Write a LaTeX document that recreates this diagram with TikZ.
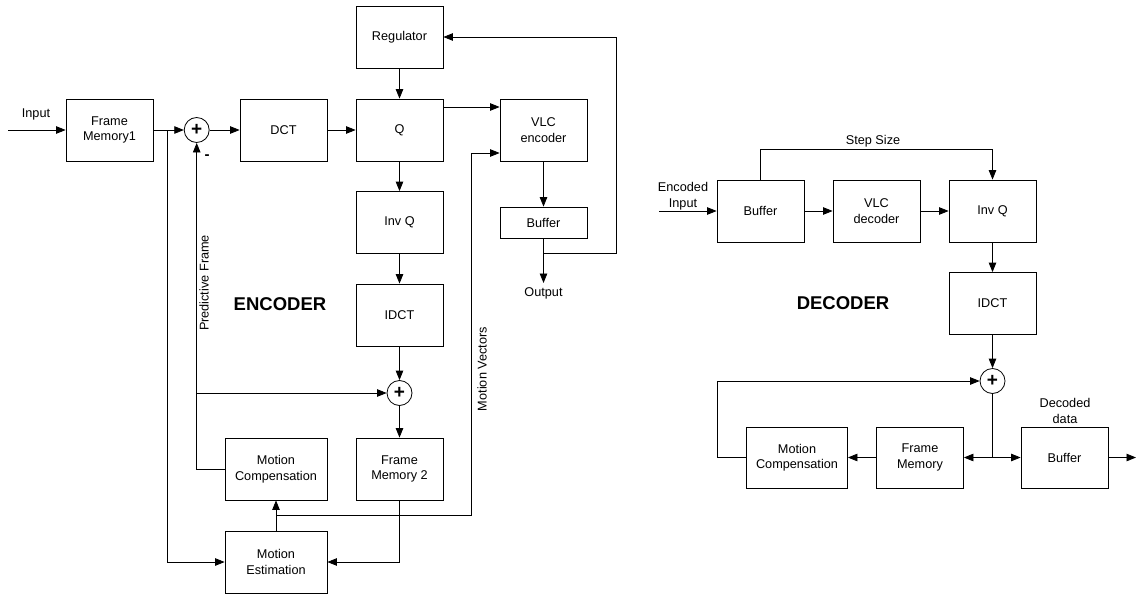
\documentclass[tikz,border=0pt]{standalone}
\usepackage{fontspec}
\setmainfont{Liberation Sans}
\usetikzlibrary{arrows.meta}
\begin{document}
\begin{tikzpicture}[x=1pt,y=-1pt,
  every node/.style={font=\fontsize{12.7}{15.5}\selectfont},
  blk/.style={draw, line width=0.8pt, minimum width=87pt, minimum height=62pt, inner sep=0pt, align=center},
  wide/.style={blk, minimum width=102pt},
  thin/.style={blk, minimum height=31pt},
  sumnode/.style={draw, circle, line width=0.8pt, minimum size=25pt, inner sep=0pt, font=\fontsize{19}{19}\selectfont\bfseries},
  lbl/.style={align=center, inner sep=0pt},
  title/.style={font=\fontsize{18.5}{20}\selectfont\bfseries, inner sep=0pt},
  wire/.style={line width=0.8pt},
  arr/.style={wire, -{Triangle[length=9.5pt,width=7.5pt]}}
]
\useasboundingbox (0,0) rectangle (1137,594);

% ---------------- ENCODER ----------------
\node[blk] (fm1) at (109.5,130) {Frame\\Memory1};
\node[sumnode] (s1) at (196.7,130) {+};
\node[blk] (dct) at (283.5,130) {DCT};
\node[blk] (q) at (399.5,130) {Q};
\node[blk] (reg) at (399.5,37) {Regulator};
\node[blk] (vlc) at (543.5,130) {VLC\\encoder};
\node[blk] (invq) at (399.5,222.5) {Inv Q};
\node[thin] (bufe) at (543.5,222.5) {Buffer};
\node[blk] (idct) at (399.5,315) {IDCT};
\node[sumnode] (s2) at (399.5,393) {+};
\node[blk] (fm2) at (399.5,469) {Frame\\Memory 2};
\node[wide] (mc) at (276,469) {Motion\\Compensation};
\node[wide] (me) at (276,562) {Motion\\Estimation};

\coordinate (in) at (8,130);
\coordinate (j1) at (167,130);
\coordinate (jout) at (543.5,253);
\coordinate (outp) at (543.5,283);
\coordinate (jfb) at (616,253);
\coordinate (jpf) at (196.7,393);
\coordinate (jmv) at (276,515);
\coordinate (jmv2) at (471.7,515);

\node[lbl] (inlbl) at (36,114) {Input};
\node[lbl] (outlbl) at (543.5,293) {Output};
\node[lbl] (minus) at (207,157) {\fontsize{15}{15}\selectfont\bfseries -};
\node[lbl, rotate=90] (pflbl) at (204,283) {Predictive Frame};
\node[lbl, rotate=90] (mvlbl) at (482,369) {Motion Vectors};
\node[title] (enc) at (280,304) {ENCODER};

\draw[arr] (in) -- (fm1.west);
\draw[arr] (fm1.east) -- (s1.west);
\draw[arr] (j1) -- (j1 |- me.west) -- (me.west);
\draw[arr] (s1.east) -- (dct.west);
\draw[arr] (dct.east) -- (q.west);
\draw[arr] (reg.south) -- (q.north);
\draw[arr] ([yshift=23pt]q.east) -- ([yshift=23pt]vlc.west);
\draw[arr] (q.south) -- (invq.north);
\draw[arr] (invq.south) -- (idct.north);
\draw[arr] (idct.south) -- (s2.north);
\draw[arr] (s2.south) -- (fm2.north);
\draw[arr] (vlc.south) -- (bufe.north);
\draw[wire] (bufe.south) -- (jout);
\draw[arr] (jout) -- (outp);
\draw[arr] (jout) -- (jfb) -- (jfb |- reg.east) -- (reg.east);
\draw[arr] (mc.west) -- (s1.south |- mc.west) -- (s1.south);
\draw[arr] (jpf) -- (s2.west);
\draw[arr] (me.north) -- (mc.south);
\draw[arr] (jmv) -- (jmv2) -- (jmv2 |- 0,153) -- ([yshift=-23pt]vlc.west);
\draw[arr] (fm2.south) -- (fm2.south |- me.east) -- (me.east);

% ---------------- DECODER ----------------
\node[blk] (bufd) at (760.5,211) {Buffer};
\node[blk] (vlcd) at (876.5,211) {VLC\\decoder};
\node[blk] (invqd) at (992.5,211) {Inv Q};
\node[blk] (idctd) at (992.5,303.5) {IDCT};
\node[sumnode] (s3) at (992.5,381) {+};
\node[blk, minimum width=101pt, minimum height=61pt] (mcd) at (797,457.5) {Motion\\Compensation};
\node[blk, minimum height=61pt] (fmd) at (920,457.5) {Frame\\Memory};
\node[blk, minimum height=61pt] (bufd2) at (1064.5,457.5) {Buffer};

\coordinate (ind) at (659,211);
\coordinate (jd) at (992.5,457.5);
\coordinate (outd) at (1136,457.5);
\coordinate (ss1) at (760.5,149);
\coordinate (ss2) at (992.5,149);
\coordinate (fbd) at (717,457.5);
\coordinate (fbd2) at (717,381);

\node[lbl] (enclbl) at (683,196) {Encoded\\Input};
\node[lbl] (sslbl) at (873,141) {Step Size};
\node[lbl] (ddlbl) at (1065,411) {Decoded\\data};
\node[title] (dec) at (843,303) {DECODER};

\draw[arr] (ind) -- (bufd.west);
\draw[arr] (bufd.east) -- (vlcd.west);
\draw[arr] (vlcd.east) -- (invqd.west);
\draw[arr] (bufd.north) -- (ss1) -- (ss2) -- (invqd.north);
\draw[arr] (invqd.south) -- (idctd.north);
\draw[arr] (idctd.south) -- (s3.north);
\draw[wire] (s3.south) -- (jd);
\draw[arr] (jd) -- (fmd.east);
\draw[arr] (jd) -- (bufd2.west);
\draw[arr] (bufd2.east) -- (outd);
\draw[arr] (fmd.west) -- (mcd.east);
\draw[arr] (mcd.west) -- (fbd) -- (fbd2) -- (s3.west);
\end{tikzpicture}
\end{document}
